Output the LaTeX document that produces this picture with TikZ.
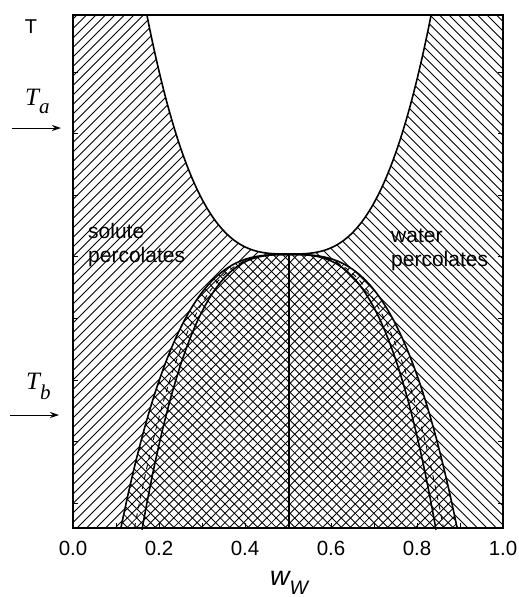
\documentclass[tikz,border=0pt]{standalone}
\usepackage{fontspec}
\setmainfont{Liberation Sans}
\newfontfamily\timesfont{Liberation Serif}
\usetikzlibrary{arrows.meta}
\tikzset{
  every node/.style={inner sep=0pt, text=black},
  frame/.style={draw=black, line width=1.8pt},
  phaseline/.style={draw=black, line width=1.6pt},
  dashline/.style={draw=black, line width=0.9pt, dash pattern=on 5pt off 5pt},
  hatchline/.style={draw=black, line width=0.85pt},
  tickmark/.style={draw=black, line width=1pt},
  pointer/.style={-{Stealth[length=9pt,width=6pt]}, draw=black, line width=1pt},
  % cube-root shaped boundaries, centred on w = 0.5
  upper curve/.style={insert path={plot[domain=-142.2:142.2, samples=161] ({289+\x},{254-(abs(\x)/22.9)^3})}},
  outer dome/.style={insert path={plot[domain=-168:168, samples=161] ({289+\x},{254.5+(abs(\x)/25.9)^3})}},
  inner dome/.style={insert path={plot[domain=-147:147, samples=161] ({289+\x},{254.5+(abs(\x)/22.6)^3})}},
  mid dome/.style={insert path={plot[domain=-154.5:154.5, samples=161] ({289+\x},{254.5+(abs(\x)/23.8)^3})}},
}
\begin{document}
\begin{tikzpicture}[x=1pt,y=-1pt]
  \useasboundingbox (0,0) rectangle (519,597);
  % hatching of the two percolation regions
  \begin{scope}
    \clip (73,15) rectangle (289,528);
    \foreach \k in {0,...,80}
      \draw[hatchline] ({-455+9.5*\k},528) -- ++(513,-513);
  \end{scope}
  \begin{scope}
    \clip (289,15) rectangle (503,528);
    \foreach \k in {0,...,80}
      \draw[hatchline] ({-235+9.5*\k},15) -- ++(513,513);
  \end{scope}
  \fill[white, upper curve] -- (431,5) -- (146,5) -- cycle;
  % cross hatched dome
  \begin{scope}
    \clip[outer dome] -- cycle;
    \fill[white] (73,15) rectangle (503,528);
    \foreach \k in {0,...,110} {
      \draw[hatchline] ({-450+9.3*\k},528) -- ++(513,-513);
      \draw[hatchline] ({-450+9.3*\k},15) -- ++(513,513);
    }
  \end{scope}
  % boundaries
  \draw[phaseline, upper curve];
  \draw[phaseline, outer dome];
  \draw[phaseline, inner dome];
  \draw[dashline, mid dome];
  \draw[phaseline] (289,254.5) -- (289,528);
  % frame and ticks
  \draw[frame] (73,15) rectangle (503,528);
  \foreach \k in {1,...,9}
    \draw[tickmark] ({73+43*\k},528) -- ++(0,-5);
  \foreach \k in {0,...,7} {
    \draw[tickmark] (73,{72+61.6*\k}) -- ++(5,0);
    \draw[tickmark] (503,{72+61.6*\k}) -- ++(-5,0);
  }
  \foreach \v [count=\i from 0] in {0.0,0.2,0.4,0.6,0.8,1.0}
    \node[font=\fontsize{20.5}{24}\selectfont] (tick\i) at ({73+86*\i},548) {\v};
  % labels
  \node[anchor=base west, font=\itshape\fontsize{27}{30}\selectfont] (wlabel) at (270,585)
    {w\raisebox{-9pt}{\fontsize{19.5}{22}\selectfont W}};
  \node[font=\fontsize{20}{22}\selectfont] (Tlabel) at (31,27) {T};
  \node[align=left, anchor=north west, font=\fontsize{21}{24.5}\selectfont] (solute) at (88,223)
    {solute\\percolates};
  \node[align=left, anchor=north west, font=\fontsize{21}{24.5}\selectfont] (water) at (391,228.5)
    {water\\percolates};
  \node[anchor=base west, font=\timesfont\itshape\fontsize{25}{28}\selectfont] (Ta) at (25,105)
    {T\raisebox{-8pt}{\fontsize{21}{24}\selectfont a}};
  \node[anchor=base west, font=\timesfont\itshape\fontsize{25}{28}\selectfont] (Tb) at (26,389)
    {T\raisebox{-10pt}{\fontsize{21}{24}\selectfont b}};
  \coordinate (ta tail) at (12,128);
  \coordinate (ta head) at (61,128);
  \coordinate (tb tail) at (10,415);
  \coordinate (tb head) at (59,415);
  \draw[pointer] (ta tail) -- (ta head);
  \draw[pointer] (tb tail) -- (tb head);
\end{tikzpicture}
\end{document}
